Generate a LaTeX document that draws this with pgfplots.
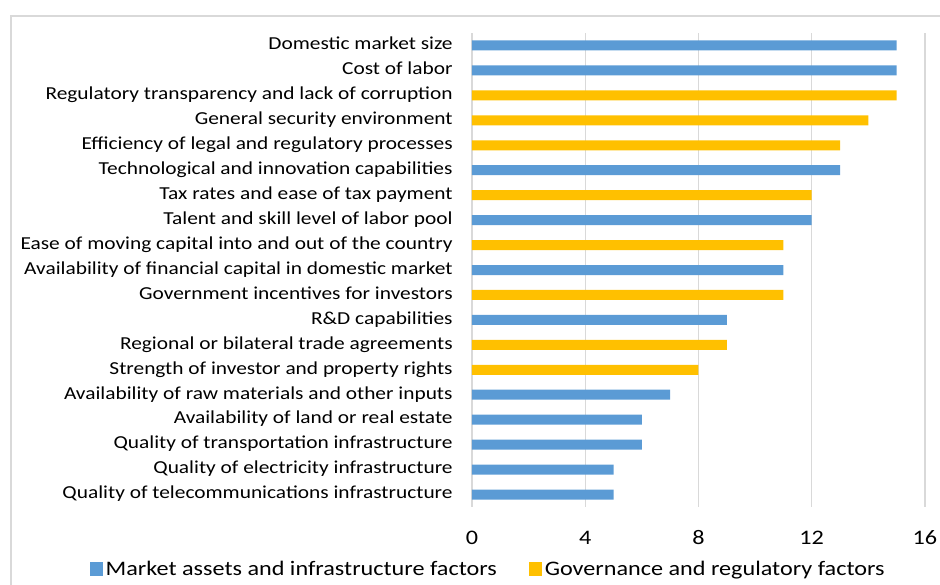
\documentclass[border=0pt]{standalone}
\usepackage{fontspec}
\setmainfont[FakeStretch=1.17]{Carlito}
\usepackage{pgfplots}
\pgfplotsset{compat=1.18}
\definecolor{mktblue}{HTML}{5B9BD5}
\definecolor{govgold}{HTML}{FFC000}
\definecolor{gridgray}{HTML}{D9D9D9}
\begin{document}
\begin{tikzpicture}
\begin{axis}[
  name=ax,
  scale only axis,
  width=339.75pt,
  height=355.5pt,
  xbar,
  bar width=7.5pt,
  bar shift=0pt,
  xmin=0, xmax=16,
  ymin=-0.5, ymax=18.5,
  y dir=reverse,
  xtick={0,4,8,12,16},
  ytick={0,...,18},
  yticklabels={Domestic market size,Cost of labor,Regulatory transparency and lack of corruption,General security environment,Efficiency of legal and regulatory processes,Technological and innovation capabilities,Tax rates and ease of tax payment,Talent and skill level of labor pool,Ease of moving capital into and out of the country,Availability of financial capital in domestic market,Government incentives for investors,R\&D capabilities,Regional or bilateral trade agreements,Strength of investor and property rights,Availability of raw materials and other inputs,Availability of land or real estate,Quality of transportation infrastructure,Quality of electricity infrastructure,Quality of telecommunications infrastructure},
  typeset ticklabels with strut,
  /pgf/number format/assume math mode=true,
  xticklabel style={font=\fontsize{15.5}{18}\selectfont, yshift=-12pt},
  yticklabel style={font=\fontsize{13.7}{16}\selectfont, xshift=-11pt},
  major tick length=0pt,
  axis line style={draw=none},
  xmajorgrids,
  grid style={gridgray, line width=1pt},
  legend columns=2,
  legend style={
    at={(0.0364,-0.131)},
    anchor=center,
    draw=none,
    fill=none,
    font=\fontsize{15.5}{18}\selectfont,
    /tikz/every even column/.append style={column sep=22pt}
  },
  legend image code/.code={\fill[#1] (0pt,-5pt) rectangle (10pt,5pt);},
]
\addplot[draw=none, fill=mktblue] coordinates {
  (15,0) (15,1) (13,5) (12,7) (11,9) (9,11) (7,14) (6,15) (6,16) (5,17) (5,18)
};
\addlegendentry{Market assets and infrastructure factors}
\addplot[draw=none, fill=govgold] coordinates {
  (15,2) (14,3) (13,4) (12,6) (11,8) (11,10) (9,12) (8,13)
};
\addlegendentry{Governance and regulatory factors}
\end{axis}
\pgfresetboundingbox
\path[use as bounding box] (ax.south west) ++(-354pt,-58.5pt) rectangle ++(705pt,438.75pt);
\draw[gridgray, line width=1.2pt] (ax.south west) ++(-345.75pt,-58.5pt) -- ++(0pt,426.75pt) -- ++(351pt+345.75pt,0pt);
\end{tikzpicture}
\end{document}
